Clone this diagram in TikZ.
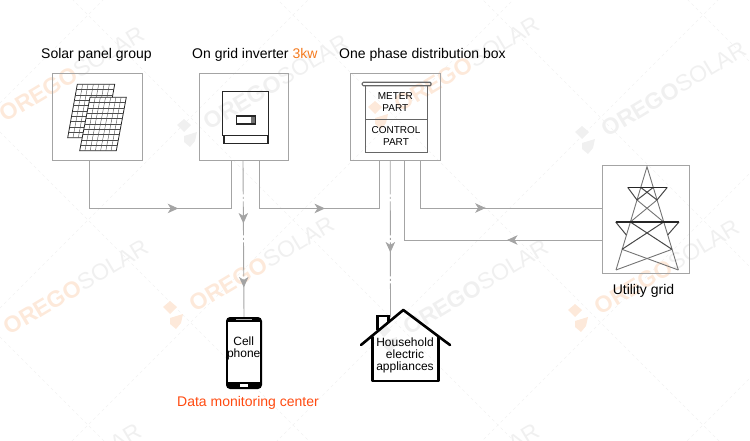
\documentclass[tikz,border=0pt]{standalone}
\usepackage{fontspec}
\setmainfont{Liberation Sans}
\usetikzlibrary{arrows.meta, calc, decorations.markings}

\definecolor{linegray}{HTML}{A4A4A4}
\definecolor{wmorange}{HTML}{FDE9DA}
\definecolor{wmgray}{HTML}{F0F0F0}
\definecolor{latticegray}{HTML}{F2F2F2}
\definecolor{kworange}{HTML}{F47B20}
\definecolor{monitorred}{HTML}{FF4A10}

% watermark: centre x, centre y, colour
\newcommand{\wmark}[3]{
  \node[rotate=31, text=#3, font=\fontsize{23}{23}\selectfont] at (#1,#2) {\textbf{OREGO}\textcolor{wmgray}{SOLAR}};
  \fill[#3] ($(#1,#2)+(-99,43)$) -- ++(7,-6) -- ++(7,6) -- ++(-7,7) -- cycle;
  \fill[#3] ($(#1,#2)+(-92,54)$) -- ++(13,-4) -- ++(-2,9) -- ++(-5,6) -- ++(-6,-5) -- cycle;
}
% solar panel: four corners, grid
\newcommand{\panelgrid}[4]{
  \draw[panelline, fill=white] (#1) -- (#2) -- (#3) -- (#4) -- cycle;
  \foreach \i in {1,...,6}
    \draw[panelthin] ($(#1)!\i/7!(#2)$) -- ($(#4)!\i/7!(#3)$);
  \foreach \i in {1,...,9}
    \draw[panelthin] ($(#1)!\i/10!(#4)$) -- ($(#2)!\i/10!(#3)$);
}

\begin{document}
\begin{tikzpicture}[x=1pt, y=-1pt]
    \tikzstyle{head} = [font=\fontsize{14}{14}\selectfont, inner sep=0pt]
    \tikzstyle{inner} = [font=\fontsize{12}{12}\selectfont, align=center, inner sep=0pt]
    \tikzstyle{part} = [font=\fontsize{10}{11.5}\selectfont, align=center, inner sep=0pt]
    \tikzstyle{box} = [rectangle, draw=linegray, line width=0.9pt, minimum width=89.5pt, minimum height=87pt, inner sep=0pt]
    \tikzstyle{link} = [draw=linegray, line width=0.9pt]
    \tikzstyle{datalink} = [link, dash pattern=on 34pt off 2.5pt on 2pt off 2.5pt]
    \tikzstyle{panelline} = [draw=black!85, line width=0.8pt]
    \tikzstyle{panelthin} = [draw=black!70, line width=0.4pt]
    \tikzstyle{device} = [draw=black!85, line width=1.2pt]
    \tikzstyle{mast} = [draw=black!55, line width=0.9pt]
    \tikzstyle{arm} = [draw=black!72, line width=1pt]
    \tikzstyle{flow} = [postaction={decorate, decoration={markings, mark=at position #1 with {\arrow[fill=linegray, draw=linegray]{Stealth[length=10.5pt, width=9.5pt, inset=3pt]}}}}]

    \useasboundingbox (0,0) rectangle (750,441);

    % background marks
    \begin{scope}
    \clip (0,0) rectangle (750,441);
    \foreach \c in {-688,-483,-278,-73,132,337}
        \draw[latticegray, dashed, line width=0.6pt] (0,\c) -- (750,750+\c);
    \foreach \c in {103,308,513,718,923,1128}
        \draw[latticegray, dashed, line width=0.6pt] (0,\c) -- (750,\c-750);
    \wmark{72}{74}{wmorange}
    \wmark{276}{82}{wmgray}
    \wmark{467}{64}{wmorange}
    \wmark{674}{89}{wmgray}
    \wmark{76}{287}{wmorange}
    \wmark{262}{264}{wmorange}
    \wmark{476}{287}{wmgray}
    \wmark{667}{267}{wmorange}
    \wmark{69}{471}{wmgray}
    \wmark{467}{471}{wmgray}
    \end{scope}

    % boxes
    \node[box] (solarbox) at (97.2,116.5) {};
    \node[box] (inverterbox) at (244,116.5) {};
    \node[box] (distbox) at (395.2,116.5) {};
    \node[box, minimum width=87pt, minimum height=108pt] (towerbox) at (646,219) {};

    % labels
    \node[head, anchor=west] (solarlabel) at (41,55) {Solar panel group};
    \node[head, anchor=west] (inverterlabel) at (192,55) {On grid inverter \textcolor{kworange}{3kw}};
    \node[head, anchor=west] (distlabel) at (339,55) {One phase distribution box};
    \node[head] (gridlabel) at (643.5,291) {Utility grid};
    \node[head, text=monitorred] (monitorlabel) at (248,403) {Data monitoring center};

    % solar panels
    \panelgrid{77.3,84.3}{114.7,84.3}{105,137.7}{67.7,137.7}
    \panelgrid{90,97.3}{126.3,97.3}{116.3,150.7}{79.7,150.7}

    % inverter
    \draw[device, line width=1.3pt] (222.7,91.7) rectangle (268.7,135.7);
    \draw[device] (224,135.7) rectangle (268,143.3);
    \draw[device, line width=1.3pt] (236.7,116) rectangle (255,124);
    \fill[black!55] (251,117) rectangle (254.5,123);

    % distribution box
    \draw[device, draw=black!60] (365.7,85.7) rectangle (427.3,152.7);
    \draw[device, draw=black!60, rounded corners=1pt] (362.3,82.3) rectangle (431,85.7);
    \draw[device, draw=black!60, line width=0.8pt] (365.7,119.3) -- (427.3,119.3);
    \node[part] (meterpart) at (395.3,102.3) {METER\\PART};
    \node[part] (controlpart) at (396,136) {CONTROL\\PART};

    % tower
    \begin{scope}[shift={(590,160)}, x=0.3333pt, y=-0.3333pt]
    \draw[mast] (78,330) -- (171,20) -- (265,330);
    \draw[mast] (96,268) -- (265,330);
    \draw[mast] (246,268) -- (78,330);
    \draw[arm] (121,186) -- (246,268);
    \draw[arm] (221,186) -- (96,268);
    \draw[mast] (141,120) -- (221,186);
    \draw[mast] (201,120) -- (121,186);
    \draw[arm] (152,82) -- (201,120);
    \draw[arm] (190,82) -- (141,120);
    \draw[arm] (113,82) -- (141,120);
    \draw[arm] (232,82) -- (201,120);
    \draw[arm] (77,186) -- (109,225);
    \draw[arm] (267,186) -- (233,225);
    \draw[draw=black!85, line width=1.5pt] (113,82) -- (232,82);
    \draw[draw=black!85, line width=1.5pt] (77,186) -- (267,186);
    \end{scope}

    % phone
    \node[rectangle, fill=black, rounded corners=4pt, minimum width=36pt, minimum height=72pt, inner sep=0pt] (phone) at (244,353) {};
    \node[inner, rectangle, fill=white, minimum width=31.5pt, minimum height=60pt] (screen) at (244.2,352) {};
    \node[inner] (phonelabel) at (243.7,348) {Cell\\phone};
    \fill[white] (240,384) rectangle (248,386.5);
    \fill[white, opacity=0.7] (236,319) rectangle (252,320);

    % house
    \draw[line width=2.4pt, fill=white] (377.3,330) -- (377.3,316) -- (388.3,316) -- (388.3,322);
    \draw[line width=2.6pt, line cap=round, line join=round] (372.3,337) -- (372.3,381) -- (438.3,381) -- (438.3,337);
    \draw[line width=2.6pt, line cap=round, line join=round] (361,345) -- (403.3,310) -- (450,345);
    \node[inner] (houselabel) at (405,355) {Household\\electric\\appliances};
    \coordinate (houseroof) at (390.5,317);

    % connectors
    \draw[link, flow=137pt] ([xshift=-8pt]solarbox.south) -- ++(0,48) -| ([xshift=-13pt]inverterbox.south);
    \draw[link, flow=114pt] ([xshift=15pt]inverterbox.south) -- ++(0,48) -| ([xshift=-16pt]distbox.south);
    \draw[link, flow=113pt] ([xshift=25pt]distbox.south) |- ([yshift=11pt]towerbox.west);
    \draw[link, flow=95pt] ([yshift=-21pt]towerbox.west) -| ([xshift=9pt]distbox.south);
    \draw[datalink] ([xshift=-1pt]inverterbox.south) -- (phone.north);
    \draw[datalink] ([xshift=-5pt]distbox.south) -- (houseroof);
    \draw[link, draw=none, flow=63pt, flow=127pt] ([xshift=-1pt]inverterbox.south) -- (phone.north);
    \draw[link, draw=none, flow=92pt] ([xshift=-5pt]distbox.south) -- (houseroof);
\end{tikzpicture}
\end{document}
